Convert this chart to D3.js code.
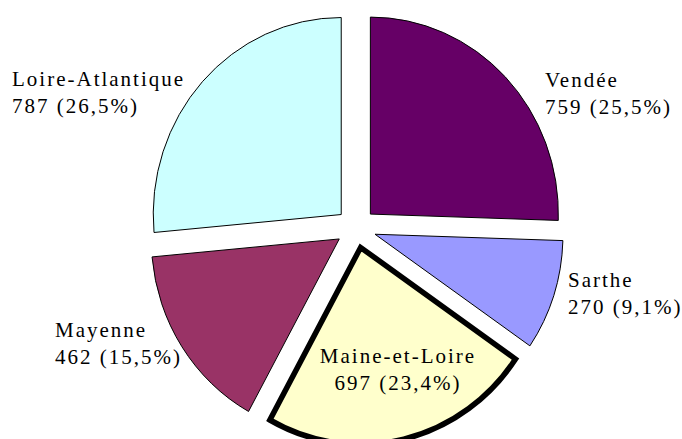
<!DOCTYPE html>
<html>
<head>
<meta charset="utf-8">
<script src="https://cdn.jsdelivr.net/npm/d3@7"></script>
<style>
  html, body { margin: 0; padding: 0; background: #fff; }
  svg { display: block; }
</style>
</head>
<body>
<svg id="chart" width="682" height="439"></svg>
<script>
// departements and their counts, in clockwise order from 12 o'clock
const names = ['Vendée', 'Sarthe', 'Maine-et-Loire', 'Mayenne', 'Loire-Atlantique'];
const values = [759, 270, 697, 462, 787];
const colors = ['#660066', '#9999FF', '#FFFFCC', '#993366', '#CCFFFF'];

const W = 682, H = 439;
const CX = 356, CY = 228;
const RX = 188, RY = 197;       // the pie is slightly taller than wide
const EXPLODE = 20;
const SELECTED = 2;             // Maine-et-Loire has the thick border

// label anchor points (left edge / first baseline), 'middle' for the inside one
const labelPos = [
    [545, 87, 'start'],
    [568, 287, 'start'],
    [398, 363, 'middle'],
    [55, 337, 'start'],
    [12, 86, 'start']
];
const LINE_H = 27;

const fr = d3.formatLocale({decimal: ',', thousands: ' ', grouping: [3], currency: ['', '€']});
const pct = fr.format('.1%');

const svg = d3.select('#chart');
const total = d3.sum(values);

const pie = d3.pie().sort(null).value(d => d)(values);
const arc = d3.arc().innerRadius(0).outerRadius(RX);

function offset(d) {
    const a = (d.startAngle + d.endAngle) / 2;
    return [CX + EXPLODE * Math.sin(a), CY - EXPLODE * Math.cos(a)];
}

// draw the selected slice last so its border sits on top
const order = pie.map((d, i) => i).filter(i => i !== SELECTED).concat([SELECTED]);

order.forEach(function (i) {
    const d = pie[i];
    const o = offset(d);
    svg.append('path')
        .attr('d', arc(d))
        .attr('transform', `translate(${o[0]},${o[1]}) scale(1,${RY / RX})`)
        .attr('fill', colors[i])
        .attr('stroke', '#000')
        .attr('stroke-width', i === SELECTED ? 5.5 : 1)
        .attr('stroke-linejoin', 'miter')
        .attr('vector-effect', 'non-scaling-stroke');
});

names.forEach(function (n, i) {
    const p = labelPos[i];
    const t = svg.append('text')
        .attr('text-anchor', p[2])
        .style('font-family', '"Liberation Serif"')
        .style('font-size', '21px')
        .style('letter-spacing', '2px')
        .style('fill', '#000');
    t.append('tspan').attr('x', p[0]).attr('y', p[1]).text(n);
    t.append('tspan').attr('x', p[0]).attr('y', p[1] + LINE_H)
        .text(values[i] + ' (' + pct(values[i] / total) + ')');
});
</script>
</body>
</html>
